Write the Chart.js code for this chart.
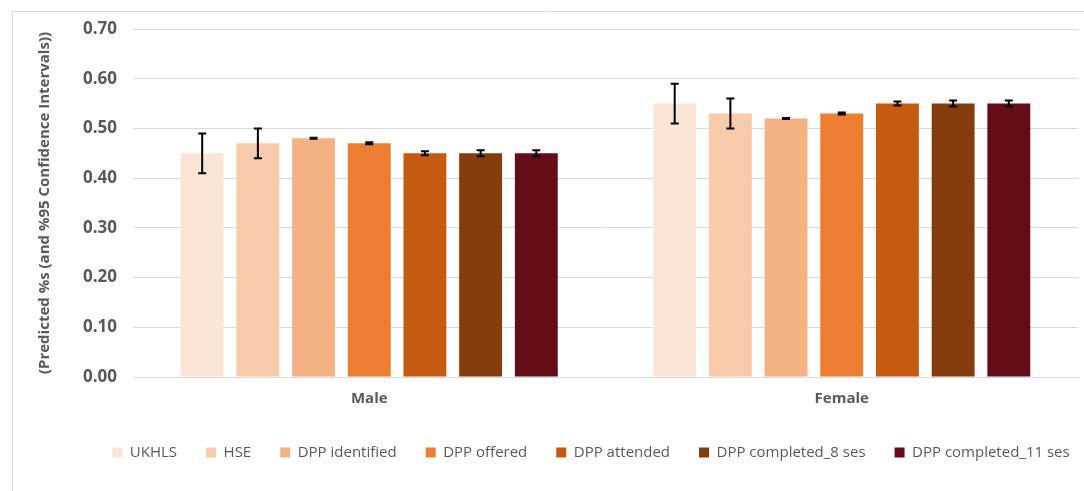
<!DOCTYPE html>
<html>
<head>
<meta charset="utf-8">
<script src="https://cdn.jsdelivr.net/npm/chart.js@4/dist/chart.umd.min.js"></script>
<style>
html,body{margin:0;padding:0;background:#fff;}
#wrap{width:1084px;height:491px;position:relative;}
</style>
</head>
<body>
<div id="wrap"><canvas id="c" width="1084" height="491"></canvas></div>
<script>
const categories = ["Male", "Female"];
const seriesNames = ["UKHLS", "HSE", "DPP identified", "DPP offered", "DPP attended", "DPP completed_8 ses", "DPP completed_11 ses"];
const seriesColors = ["#FBE5D6", "#F8CBAD", "#F4B183", "#ED7D31", "#C55A11", "#843C0C", "#640D18"];
// values per series: [Male, Female]
const ukhls = [0.45, 0.55];
const hse = [0.47, 0.53];
const dppIdentified = [0.48, 0.52];
const dppOffered = [0.47, 0.53];
const dppAttended = [0.45, 0.55];
const dppCompleted8 = [0.45, 0.55];
const dppCompleted11 = [0.45, 0.55];
// 95% CI lower/upper per series: [Male, Female]
const ukhlsLow = [0.41, 0.51], ukhlsHigh = [0.49, 0.59];
const hseLow = [0.44, 0.50], hseHigh = [0.50, 0.56];
const identLow = [0.479, 0.519], identHigh = [0.481, 0.521];
const offerLow = [0.468, 0.528], offerHigh = [0.472, 0.532];
const attendLow = [0.446, 0.546], attendHigh = [0.454, 0.554];
const comp8Low = [0.444, 0.544], comp8High = [0.456, 0.556];
const comp11Low = [0.444, 0.544], comp11High = [0.456, 0.556];
const yTicks = [0, 0.1, 0.2, 0.3, 0.4, 0.5, 0.6, 0.7];

const values = [ukhls, hse, dppIdentified, dppOffered, dppAttended, dppCompleted8, dppCompleted11];
const lows = [ukhlsLow, hseLow, identLow, offerLow, attendLow, comp8Low, comp11Low];
const highs = [ukhlsHigh, hseHigh, identHigh, offerHigh, attendHigh, comp8High, comp11High];

const FONT = "'Open Sans', 'Liberation Sans', sans-serif";

const datasets = seriesNames.map((n, i) => ({
  label: n,
  data: values[i],
  backgroundColor: seriesColors[i],
  borderWidth: 0,
  ciLow: lows[i],
  ciHigh: highs[i]
}));

const errorBars = {
  id: 'errorBars',
  afterDatasetsDraw(chart) {
    const ctx = chart.ctx;
    const y = chart.scales.y;
    ctx.save();
    ctx.strokeStyle = '#000';
    ctx.lineWidth = 2;
    chart.data.datasets.forEach((ds, di) => {
      const meta = chart.getDatasetMeta(di);
      meta.data.forEach((bar, j) => {
        const x = bar.x;
        const yl = y.getPixelForValue(ds.ciLow[j]);
        const yh = y.getPixelForValue(ds.ciHigh[j]);
        ctx.beginPath();
        ctx.moveTo(x, yl); ctx.lineTo(x, yh);
        ctx.moveTo(x - 4, yl); ctx.lineTo(x + 4, yl);
        ctx.moveTo(x - 4, yh); ctx.lineTo(x + 4, yh);
        ctx.stroke();
      });
    });
    ctx.restore();
  }
};

const frame = {
  id: 'frame',
  beforeDraw(chart) {
    const ctx = chart.ctx;
    ctx.save();
    ctx.fillStyle = '#fff';
    ctx.fillRect(0, 0, chart.width, chart.height);
    ctx.strokeStyle = '#d9d9d9';
    ctx.lineWidth = 1;
    ctx.beginPath();
    ctx.moveTo(12.5, 500);
    ctx.lineTo(12.5, 11.5);
    ctx.lineTo(1084, 11.5);
    ctx.stroke();
    ctx.restore();
  }
};

const legendShift = {
  id: 'legendShift',
  afterLayout(chart) {
    const lg = chart.legend;
    if (!lg) return;
    lg.left += 34; lg.right += 34;
    lg.top -= 5; lg.bottom -= 5;
  }
};

new Chart(document.getElementById('c'), {
  type: 'bar',
  data: { labels: categories, datasets },
  options: {
    responsive: false,
    animation: false,
    layout: { padding: { left: 36, right: 6, top: 29, bottom: 16 } },
    plugins: {
      legend: {
        position: 'bottom',
        labels: {
          boxWidth: 10, boxHeight: 10, padding: 29,
          color: '#595959',
          font: { family: FONT, size: 15 }
        }
      },
      tooltip: { enabled: false }
    },
    datasets: { bar: { barPercentage: 0.77, categoryPercentage: 0.825 } },
    scales: {
      x: {
        grid: { display: false, drawTicks: false },
        border: { color: '#d9d9d9' },
        ticks: { color: '#595959', font: { family: FONT, size: 15, weight: 'bold' }, padding: 13 }
      },
      y: {
        min: 0, max: 0.7,
        afterBuildTicks(s) { s.ticks = yTicks.map(v => ({ value: v })); },
        afterFit(s) { s.width = 97; },
        grid: { color: '#d9d9d9', drawTicks: false },
        border: { display: false },
        ticks: {
          color: '#595959', padding: 16,
          font: { family: FONT, size: 17, weight: 'bold' },
          callback: v => Number(v).toFixed(2)
        },
        title: {
          display: true,
          text: '(Predicted %s (and %95 Confidence Intervals))',
          color: '#595959',
          font: { family: FONT, size: 15, weight: 'bold' },
          padding: { top: 0, bottom: 0 }
        }
      }
    }
  },
  plugins: [frame, legendShift, errorBars]
});
</script>
</body>
</html>
